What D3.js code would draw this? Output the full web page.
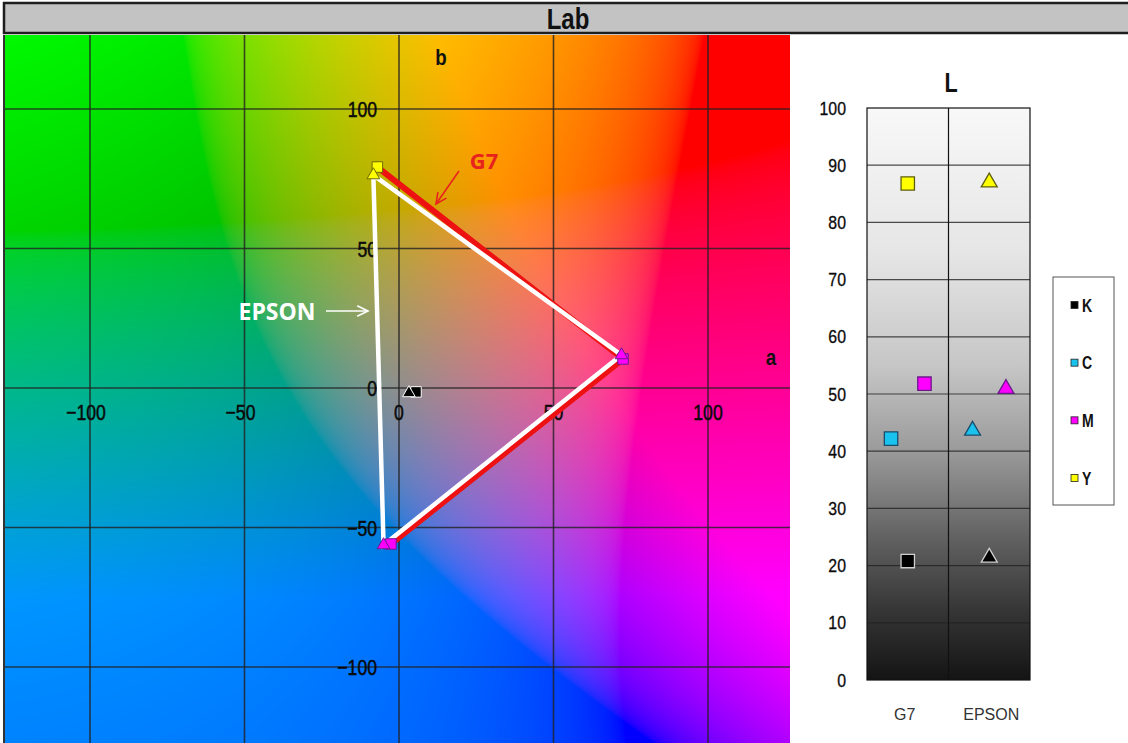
<!DOCTYPE html>
<html>
<head>
<meta charset="utf-8">
<script src="https://cdn.jsdelivr.net/npm/d3@7"></script>
<style>
body { margin: 0; background: #fff; overflow: hidden; }
text { font-family: "Liberation Sans", Arial, sans-serif; }
</style>
</head>
<body>
<svg id="chart" width="1128" height="743"></svg>
<script>
// inks, in the order K C M Y
const inks = ["K", "C", "M", "Y"];
const devices = ["G7", "EPSON"];

// a*, b*
const g7_a = [5.5, -2.6, 72.5, -7.0];
const g7_b = [-1.4, -55.9, 10.4, 79.2];
const epson_a = [3.2, -5.0, 72.0, -8.3];
const epson_b = [-1.8, -56.3, 11.8, 76.3];

// L*
const g7_L = [20.8, 42.2, 51.8, 86.8];
const epson_L = [21.4, 43.6, 50.9, 87.0];

const abTicks = [-100, -50, 0, 50, 100];
const lTicks = d3.range(0, 101, 10);

// colours as drawn (the C markers on the ab plane are magenta in the picture)
const abInkColor = { K: "#000000", C: "#ff00ff", M: "#ff00ff", Y: "#ffff00" };
const abInkStroke = { K: "#ffffff", C: "#6b1a8c", M: "#6b1a8c", Y: "#6b6b00" };
const lInkColor = { K: "#000000", C: "#19c3ee", M: "#ff00ff", Y: "#ffff00" };
const lInkStroke = { K: "#d0d0d0", C: "#1a4b6b", M: "#6b1a8c", Y: "#5e5e10" };
const inkDodge = { K: 0, C: -1, M: 1, Y: 0 };

const svg = d3.select("#chart");

// squeeze text horizontally, to get the narrow face of the original
function narrow(sel, f) {
    sel.each(function () {
        const w = this.getComputedTextLength();
        d3.select(this).attr("textLength", w * f).attr("lengthAdjust", "spacingAndGlyphs");
    });
    return sel;
}

// ---------- title bar ----------
svg.append("rect")
    .attr("x", 4).attr("y", 3).attr("width", 1130).attr("height", 30)
    .attr("fill", "#c3c3c3").attr("stroke", "#1e1e1e").attr("stroke-width", 2.5);
narrow(svg.append("text")
    .attr("x", 568).attr("y", 29)
    .attr("text-anchor", "middle")
    .style("font-size", "30px").style("font-weight", "bold").style("fill", "#111")
    .text("Lab"), 0.8);

// ---------- ab plane ----------
const plot = { left: 5, top: 35, right: 790, bottom: 743 };
const xA = d3.scaleLinear().domain([-100, 100]).range([90, 708]);
const yB = d3.scaleLinear().domain([-100, 100]).range([667, 109]);

// background: Lab colours of the plane, lightness rising with b
const cw = plot.right - plot.left, ch = plot.bottom - plot.top;
const canvas = document.createElement("canvas");
canvas.width = cw; canvas.height = ch;
const ctx = canvas.getContext("2d");
const img = ctx.createImageData(cw, ch);
for (let py = 0; py < ch; py++) {
    const b = yB.invert(plot.top + py + 0.5);
    for (let px = 0; px < cw; px++) {
        const a = xA.invert(plot.left + px + 0.5);
        const c = d3.lab(59 + 0.17 * b, a * 1.12, b * 1.12).rgb();
        const i = (py * cw + px) * 4;
        img.data[i] = c.r; img.data[i + 1] = c.g; img.data[i + 2] = c.b; img.data[i + 3] = 255;
    }
}
ctx.putImageData(img, 0, 0);
svg.append("image")
    .attr("x", plot.left).attr("y", plot.top)
    .attr("width", cw).attr("height", ch)
    .attr("preserveAspectRatio", "none")
    .attr("href", canvas.toDataURL());

svg.append("line")
    .attr("x1", plot.left - 1).attr("x2", plot.left - 1)
    .attr("y1", plot.top).attr("y2", plot.bottom)
    .attr("stroke", "#333").attr("stroke-width", 2);

// grid
svg.append("g").selectAll("line")
    .data(abTicks).enter()
    .append("line")
    .attr("x1", d => xA(d)).attr("x2", d => xA(d))
    .attr("y1", plot.top).attr("y2", plot.bottom)
    .attr("stroke", "#222").attr("stroke-opacity", 0.8).attr("stroke-width", 1.6);
svg.append("g").selectAll("line")
    .data(abTicks).enter()
    .append("line")
    .attr("x1", plot.left).attr("x2", plot.right)
    .attr("y1", d => yB(d)).attr("y2", d => yB(d))
    .attr("stroke", "#222").attr("stroke-opacity", 0.8).attr("stroke-width", 1.6);

// tick labels
const fmt = d => d3.format("d")(d).replace("-", "\u2013");
narrow(svg.append("g").selectAll("text")
    .data(abTicks).enter()
    .append("text")
    .attr("x", d => xA(d) - (d < 0 ? 4 : 0)).attr("y", yB(0) + 32)
    .attr("text-anchor", "middle")
    .style("font-size", "22px").style("fill", "#0a0a0a")
    .style("stroke", "#0a0a0a").style("stroke-width", 0.5)
    .text(fmt), 0.8);
narrow(svg.append("g").selectAll("text")
    .data(abTicks).enter()
    .append("text")
    .attr("x", 377).attr("y", d => yB(d) + 8)
    .attr("text-anchor", "end")
    .style("font-size", "22px").style("fill", "#0a0a0a")
    .style("stroke", "#0a0a0a").style("stroke-width", 0.5)
    .text(fmt), 0.8);

narrow(svg.append("text").attr("x", 441).attr("y", 65)
    .attr("text-anchor", "middle")
    .style("font-size", "22px").style("font-weight", "bold").style("fill", "#111")
    .text("b"), 0.85);
narrow(svg.append("text").attr("x", 771).attr("y", 365)
    .attr("text-anchor", "middle")
    .style("font-size", "22px").style("font-weight", "bold").style("fill", "#111")
    .text("a"), 0.85);

// gamut lines
const g7Pts = inks.map((k, i) => ({ ink: k, a: g7_a[i], b: g7_b[i] }));
const epsonPts = inks.map((k, i) => ({ ink: k, a: epson_a[i], b: epson_b[i] }));
const byInk = (pts, order) => order.map(k => pts.find(p => p.ink === k));

const abLine = d3.line().x(d => xA(d.a)).y(d => yB(d.b));

svg.append("path")
    .datum(byInk(g7Pts, ["Y", "M", "C"]))
    .attr("d", abLine)
    .attr("fill", "none").attr("stroke", "#ee1111").attr("stroke-width", 6)
    .attr("stroke-linejoin", "miter");
svg.append("path")
    .datum(byInk(epsonPts, ["Y", "M", "C", "Y"]))
    .attr("d", abLine)
    .attr("fill", "none").attr("stroke", "#ffffff").attr("stroke-width", 4.5)
    .attr("stroke-linejoin", "miter");

const sq = d3.symbol().type(d3.symbolSquare);
const tri = d3.symbol().type(d3.symbolTriangle);

svg.append("g").selectAll("path")
    .data(g7Pts).enter()
    .append("path")
    .attr("transform", d => `translate(${xA(d.a)},${yB(d.b)})`)
    .attr("d", sq.size(110)())
    .attr("fill", d => abInkColor[d.ink]).attr("stroke", d => abInkStroke[d.ink]).attr("stroke-width", 1);
svg.append("g").selectAll("path")
    .data(epsonPts).enter()
    .append("path")
    .attr("transform", d => `translate(${xA(d.a)},${yB(d.b)})`)
    .attr("d", tri.size(70)())
    .attr("fill", d => abInkColor[d.ink]).attr("stroke", d => abInkStroke[d.ink]).attr("stroke-width", 1);

// annotations
function arrow(x1, y1, x2, y2, color) {
    const ang = Math.atan2(y2 - y1, x2 - x1), h = 12, w = 0.45;
    svg.append("line").attr("x1", x1).attr("y1", y1).attr("x2", x2).attr("y2", y2)
        .attr("stroke", color).attr("stroke-width", 1.6);
    svg.append("path")
        .attr("d", `M${x2 - h * Math.cos(ang - w)},${y2 - h * Math.sin(ang - w)}L${x2},${y2}L${x2 - h * Math.cos(ang + w)},${y2 - h * Math.sin(ang + w)}`)
        .attr("fill", "none").attr("stroke", color).attr("stroke-width", 1.6);
}
svg.append("text").attr("x", 484).attr("y", 169)
    .attr("text-anchor", "middle")
    .style("font-family", "'Open Sans', 'Noto Sans', sans-serif")
    .style("font-size", "22px").style("font-weight", "bold").style("fill", "#e8231e")
    .text("G7");
arrow(459, 171, 436, 204, "#e8231e");
svg.append("text").attr("x", 277).attr("y", 320)
    .attr("text-anchor", "middle")
    .style("font-family", "'Open Sans', 'Noto Sans', sans-serif")
    .style("font-size", "23px").style("font-weight", "bold").style("fill", "#ffffff")
    .text("EPSON");
arrow(326, 311, 368, 311, "#ffffff");

// ---------- L chart ----------
const lx = d3.scaleBand().domain(devices).range([867, 1030]);
const ly = d3.scaleLinear().domain([0, 100]).range([680, 108]);

const defs = svg.append("defs");
const grad = defs.append("linearGradient").attr("id", "lgrad")
    .attr("x1", 0).attr("y1", 0).attr("x2", 0).attr("y2", 1);
[[0, "#f8f8f8"], [0.25, "#e6e6e6"], [0.45, "#c6c6c6"], [0.6, "#9a9a9a"], [0.75, "#626262"], [0.88, "#353535"], [1, "#141414"]]
    .forEach(s => grad.append("stop").attr("offset", s[0]).attr("stop-color", s[1]));

svg.append("rect")
    .attr("x", lx.range()[0]).attr("y", ly(100))
    .attr("width", lx.range()[1] - lx.range()[0]).attr("height", ly(0) - ly(100))
    .attr("fill", "url(#lgrad)");

svg.append("g").selectAll("line")
    .data(lTicks.slice(1, -1)).enter()
    .append("line")
    .attr("x1", lx.range()[0]).attr("x2", lx.range()[1])
    .attr("y1", d => ly(d)).attr("y2", d => ly(d))
    .attr("stroke", "#222").attr("stroke-opacity", 0.8).attr("stroke-width", 1.2);
svg.append("line")
    .attr("x1", lx("EPSON")).attr("x2", lx("EPSON"))
    .attr("y1", ly(100)).attr("y2", ly(0))
    .attr("stroke", "#111").attr("stroke-width", 1.2);
svg.append("rect")
    .attr("x", lx.range()[0]).attr("y", ly(100))
    .attr("width", lx.range()[1] - lx.range()[0]).attr("height", ly(0) - ly(100))
    .attr("fill", "none").attr("stroke", "#111").attr("stroke-width", 1.2);

narrow(svg.append("g").selectAll("text")
    .data(lTicks).enter()
    .append("text")
    .attr("x", 846).attr("y", d => ly(d) + 6.5)
    .attr("text-anchor", "end")
    .style("font-size", "18px").style("fill", "#0a0a0a")
    .style("stroke", "#0a0a0a").style("stroke-width", 0.3)
    .text(d => d), 0.88);

svg.append("g").selectAll("text")
    .data(devices).enter()
    .append("text")
    .attr("x", d => lx(d) + lx.bandwidth() / 2 + (d === "EPSON" ? 2 : -3)).attr("y", 720)
    .attr("text-anchor", "middle")
    .style("font-size", "16px").style("fill", "#333")
    .text(d => d);

narrow(svg.append("text").attr("x", 951).attr("y", 92)
    .attr("text-anchor", "middle")
    .style("font-size", "27px").style("font-weight", "bold").style("fill", "#111")
    .text("L"), 0.8);

const lPts = []
    .concat(inks.map((k, i) => ({ dev: "G7", ink: k, L: g7_L[i] })))
    .concat(inks.map((k, i) => ({ dev: "EPSON", ink: k, L: epson_L[i] })));
const lXpos = d => lx(d.dev) + lx.bandwidth() / 2 + inkDodge[d.ink] * lx.bandwidth() * 0.205;

svg.append("g").selectAll("path")
    .data(lPts).enter()
    .append("path")
    .attr("transform", d => `translate(${lXpos(d)},${ly(d.L)})`)
    .attr("d", d => d.dev === "G7" ? sq.size(180)() : tri.size(110)())
    .attr("fill", d => lInkColor[d.ink]).attr("stroke", d => lInkStroke[d.ink]).attr("stroke-width", 1.3);

// legend
const legend = svg.append("g");
legend.append("rect")
    .attr("x", 1053).attr("y", 277).attr("width", 61).attr("height", 228)
    .attr("fill", "#fff").attr("stroke", "#555").attr("stroke-width", 1);
const ly2 = d3.scalePoint().domain(inks).range([305, 478]);
legend.selectAll("rect.key")
    .data(inks).enter()
    .append("rect").attr("class", "key")
    .attr("x", 1071).attr("y", d => ly2(d) - 3.5).attr("width", 7).attr("height", 7)
    .attr("fill", d => lInkColor[d]).attr("stroke", "#222").attr("stroke-width", 0.8);
narrow(legend.selectAll("text")
    .data(inks).enter()
    .append("text")
    .attr("x", 1082).attr("y", d => ly2(d) + 6.5)
    .style("font-size", "18px").style("font-weight", "bold").style("fill", "#111")
    .text(d => d), 0.78);
</script>
</body>
</html>
